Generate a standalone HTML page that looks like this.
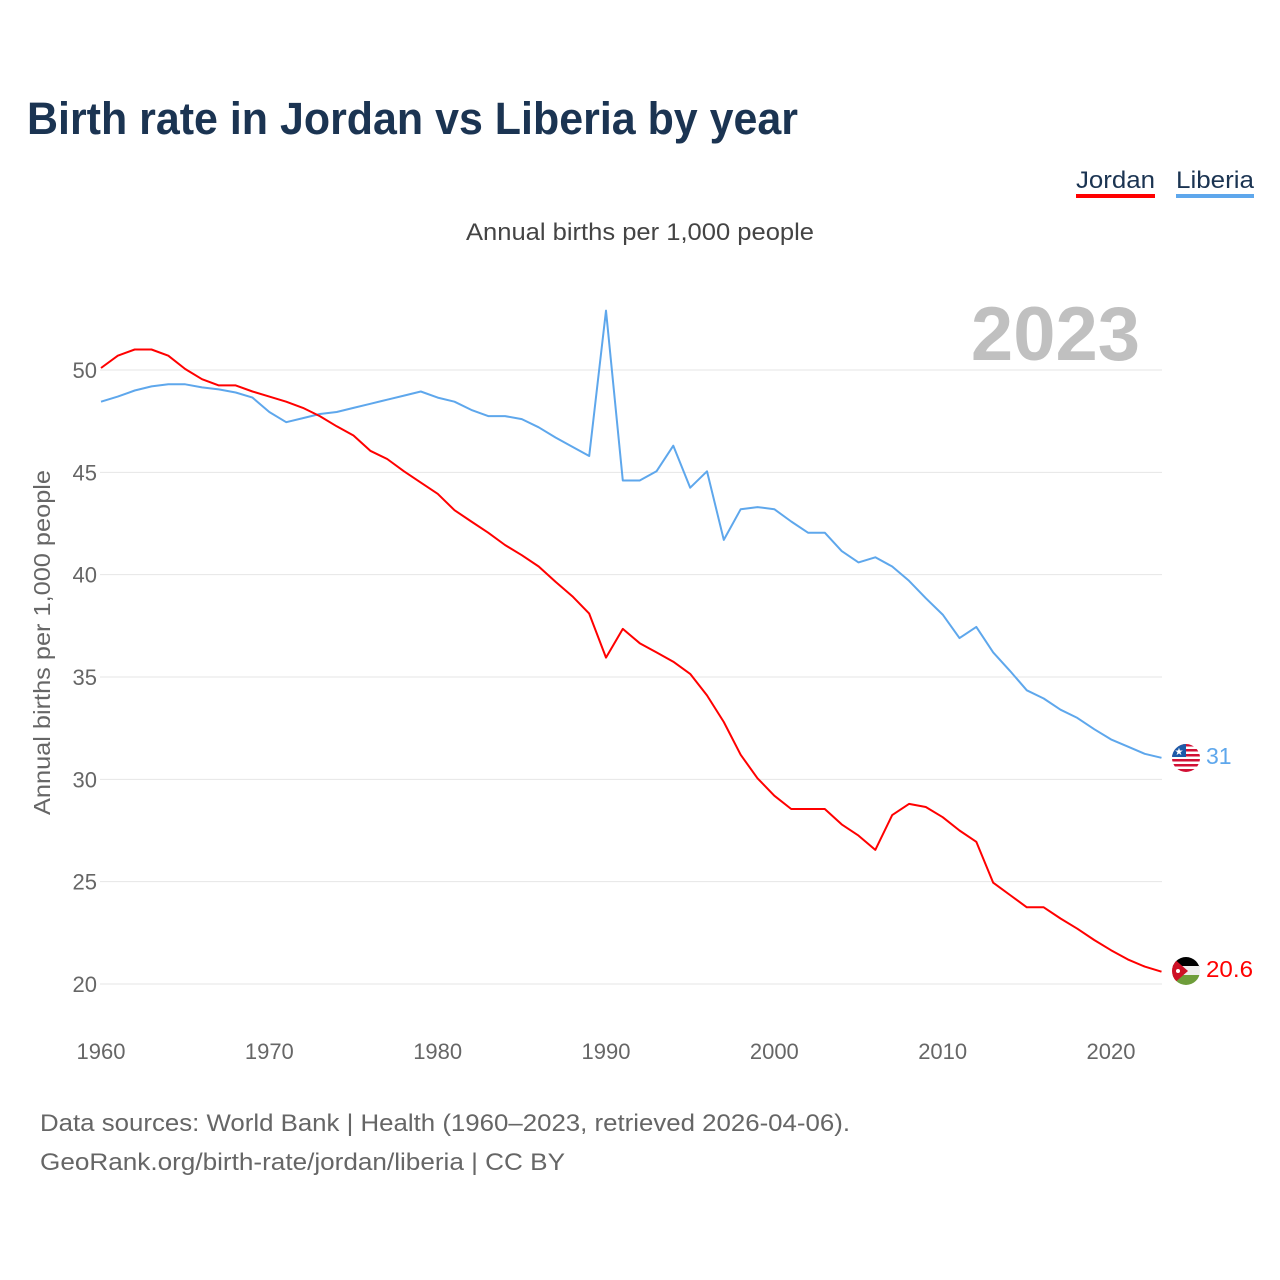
<!DOCTYPE html>
<html><head><meta charset="utf-8">
<style>
body{margin:0;background:#fff;font-family:"Liberation Sans",sans-serif;}
#wrap{position:relative;width:1280px;height:1280px;overflow:hidden;}
</style></head>
<body>
<div id="wrap">
<svg id="chart" width="1280" height="1280">
<defs>
<clipPath id="c1"><circle cx="1186" cy="758" r="14"/></clipPath>
<clipPath id="c2"><circle cx="1186" cy="971" r="14"/></clipPath>
</defs>
<text x="27" y="134" font-size="45" font-weight="bold" fill="#1b3452" textLength="771" lengthAdjust="spacingAndGlyphs">Birth rate in Jordan vs Liberia by year</text>
<g><text x="1076" y="188" font-size="24" fill="#1b3452" textLength="79" lengthAdjust="spacingAndGlyphs">Jordan</text><rect x="1076" y="194" width="79" height="4" fill="#ff0000"/></g>
<g><text x="1176" y="188" font-size="24" fill="#1b3452" textLength="78" lengthAdjust="spacingAndGlyphs">Liberia</text><rect x="1176" y="194" width="78" height="4" fill="#5ea7ec"/></g>
<text x="466" y="240" font-size="24" fill="#444" textLength="348" lengthAdjust="spacingAndGlyphs">Annual births per 1,000 people</text>
<text x="1140" y="360" font-size="76" font-weight="bold" fill="#c0c0c0" text-anchor="end">2023</text>
<text transform="translate(50,815) rotate(-90)" font-size="23" fill="#666" textLength="345" lengthAdjust="spacingAndGlyphs">Annual births per 1,000 people</text>
<g id="grid"></g><g id="lines"></g>
<g clip-path="url(#c1)">
<rect x="1172" y="744" width="28" height="28" fill="#fff"/>
<rect x="1172" y="744" width="28" height="2.5" fill="#d21034"/><rect x="1172" y="749" width="28" height="2.5" fill="#d21034"/><rect x="1172" y="754" width="28" height="2.5" fill="#d21034"/><rect x="1172" y="759" width="28" height="2.5" fill="#d21034"/><rect x="1172" y="764" width="28" height="2.5" fill="#d21034"/><rect x="1172" y="769" width="28" height="3" fill="#d21034"/>
<rect x="1172" y="744" width="14" height="13" fill="#1d5aa8"/><text x="1179" y="755" font-size="10" fill="#fff" text-anchor="middle">★</text></g>
<g clip-path="url(#c2)">
<rect x="1172" y="957" width="28" height="10" fill="#000"/><rect x="1172" y="966" width="28" height="10" fill="#eee"/><rect x="1172" y="975" width="28" height="10" fill="#6e9d3a"/>
<polygon points="1172,957 1188,971 1172,985" fill="#ce1126"/><circle cx="1178" cy="971" r="2" fill="#fff"/></g>
<text x="1206" y="764" font-size="23" fill="#5ea7ec">31</text>
<text x="1206" y="977" font-size="23" fill="#ff0000" textLength="47" lengthAdjust="spacingAndGlyphs">20.6</text>
<text x="40" y="1131" font-size="24" fill="#666" textLength="810" lengthAdjust="spacingAndGlyphs">Data sources: World Bank | Health (1960–2023, retrieved 2026-04-06).</text>
<text x="40" y="1170" font-size="24" fill="#666" textLength="525" lengthAdjust="spacingAndGlyphs">GeoRank.org/birth-rate/jordan/liberia | CC BY</text>
</svg>
</div>
<script>
const years=[];for(let y=1960;y<=2023;y++)years.push(y);
const jordan=[50.1,50.7,51.0,51.0,50.7,50.05,49.55,49.25,49.25,48.95,48.7,48.45,48.15,47.75,47.25,46.8,46.05,45.65,45.05,44.5,43.95,43.15,42.6,42.05,41.45,40.95,40.4,39.65,38.95,38.1,35.95,37.35,36.65,36.2,35.75,35.15,34.1,32.8,31.2,30.05,29.2,28.55,28.55,28.55,27.8,27.25,26.55,28.25,28.8,28.65,28.15,27.5,26.95,24.95,24.35,23.75,23.75,23.2,22.7,22.15,21.65,21.2,20.85,20.6];
const liberia=[48.45,48.7,49.0,49.2,49.3,49.3,49.15,49.05,48.9,48.65,47.95,47.45,47.65,47.85,47.95,48.15,48.35,48.55,48.75,48.95,48.65,48.45,48.05,47.75,47.75,47.6,47.2,46.7,46.25,45.8,52.9,44.6,44.6,45.05,46.3,44.25,45.05,41.7,43.2,43.3,43.2,42.6,42.05,42.05,41.15,40.6,40.85,40.4,39.7,38.85,38.05,36.9,37.45,36.2,35.3,34.35,33.95,33.4,33.0,32.45,31.95,31.6,31.25,31.05];
const yTicks=[20,25,30,35,40,45,50];
const xTicks=[1960,1970,1980,1990,2000,2010,2020];
const xs=v=>101+(v-1960)*(1010/60);
const ys=v=>984-(v-20)*(614/30);
const NS='http://www.w3.org/2000/svg';
const grid=document.getElementById('grid'),lines=document.getElementById('lines');
yTicks.forEach(t=>{
 const l=document.createElementNS(NS,'line');
 l.setAttribute('x1',100);l.setAttribute('x2',1162);l.setAttribute('y1',ys(t));l.setAttribute('y2',ys(t));
 l.setAttribute('stroke','#e6e6e6');l.setAttribute('stroke-width',1);
 
 
 grid.appendChild(l);
 const tx=document.createElementNS(NS,'text');
 tx.setAttribute('x',97);tx.setAttribute('y',ys(t)+8);tx.setAttribute('text-anchor','end');
 tx.setAttribute('font-size','22');tx.setAttribute('fill','#666');tx.textContent=t;
 
 
 grid.appendChild(tx);
});
xTicks.forEach(t=>{
 const tx=document.createElementNS(NS,'text');
 tx.setAttribute('x',xs(t));tx.setAttribute('y',1059);tx.setAttribute('text-anchor','middle');
 tx.setAttribute('font-size','22');tx.setAttribute('fill','#666');tx.textContent=t;
 
 
 grid.appendChild(tx);
});
function draw(arr,color,name){
 const p=document.createElementNS(NS,'polyline');
 p.setAttribute('points',arr.map((v,i)=>xs(years[i]).toFixed(1)+','+ys(v).toFixed(1)).join(' '));
 p.setAttribute('fill','none');p.setAttribute('stroke',color);p.setAttribute('stroke-width',2);
 p.setAttribute('stroke-linejoin','round');
 
 
 lines.appendChild(p);
}
draw(liberia,'#5ea7ec','liberia-line');
draw(jordan,'#ff0000','jordan-line');
</script>
</body></html>
